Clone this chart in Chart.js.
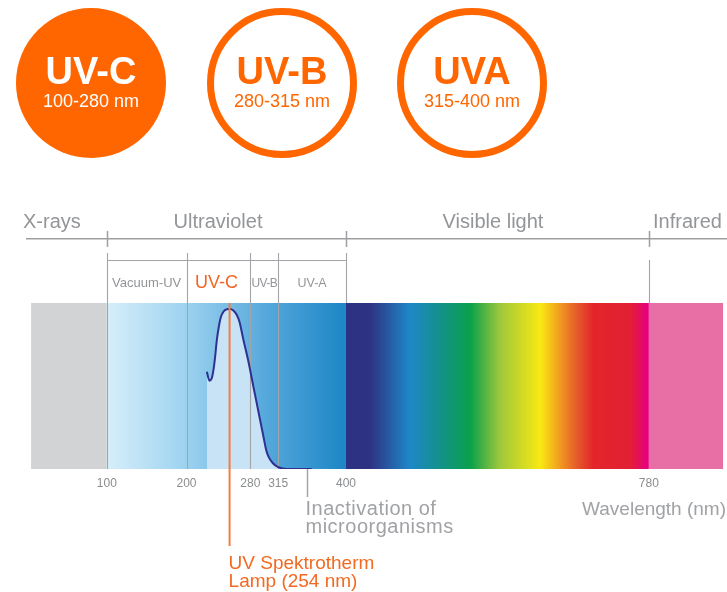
<!DOCTYPE html>
<html>
<head>
<meta charset="utf-8">
<script src="https://cdn.jsdelivr.net/npm/chart.js@4.4.1/dist/chart.umd.min.js"></script>
<style>
html,body{margin:0;padding:0;background:#fff;}
#c{display:block;}
</style>
</head>
<body>
<canvas id="c" width="727" height="592"></canvas>
<script>
// ---- data ----
const circleLabels = ['UV-C', 'UV-B', 'UVA'];
const circleRanges = ['100-280 nm', '280-315 nm', '315-400 nm'];
const regionLabels = ['X-rays', 'Ultraviolet', 'Visible light', 'Infrared'];
const regionBounds = [5, 100, 400, 780, 873];
const uvLabels = ['Vacuum-UV', 'UV-C', 'UV-B', 'UV-A'];
const uvBounds = [100, 200, 280, 315, 400];
const tickLabels = [100, 200, 280, 315, 400, 780];
const curveWavelengths = [225.5, 228.7, 231.7, 233.8, 235.9, 238.0, 240.9, 243.0, 246.3, 250.6, 254.7, 258.8, 263.1, 266.4, 271.4, 277.7, 283.9, 290.2, 296.5, 299.9, 302.8, 308.3, 315.3, 325.8, 357.2];
const curveIntensity   = [0.608, 0.552, 0.567, 0.619, 0.702, 0.806, 0.900, 0.948, 0.983, 0.998, 1.000, 0.990, 0.962, 0.920, 0.806, 0.670, 0.514, 0.358, 0.202, 0.119, 0.077, 0.036, 0.011, 0.000, 0.000];
const lampWavelength = 254;
const inactivationWavelength = 351;
const uvStopWl = [100, 200, 300, 400];
const uvStopColors = ['#d6eefb', '#9dd2ef', '#55a8db', '#1c86c6'];
const visibleStopWl = [400, 430, 480, 518, 556, 593, 644, 672, 690, 710, 757, 778, 780];
const visibleStopColors = ['#2e3282', '#2e3282', '#1e87c8', '#13918a', '#0aa04a', '#9ec73c', '#f9e912', '#ef8f22', '#e55a2a', '#e3262a', '#e21f35', '#e6007e', '#e6007e'];
const xrayColor = '#d1d3d4';
const infraredColor = '#e86ea6';

const FONT = "'Liberation Sans', Arial, Helvetica, sans-serif";
const GRAY_TEXT = '#939598';
const LINE_GRAY = '#a2a4a7';
const ORANGE = '#ff6600';

const curveData = curveWavelengths.map((w, i) => ({x: w, y: curveIntensity[i]}));

function bandTop(chart){ return chart.scales.y.getPixelForValue(chart.scales.y.max); }
function bandBottom(chart){ return chart.scales.y.getPixelForValue(0); }

const spectrumPlugin = {
  id: 'spectrum',
  beforeDraw(chart) {
    const ctx = chart.ctx, xs = chart.scales.x;
    const top = bandTop(chart), bot = bandBottom(chart);
    const px = v => xs.getPixelForValue(v);
    ctx.save();
    ctx.fillStyle = xrayColor;
    ctx.fillRect(px(regionBounds[0]), top, px(regionBounds[1]) - px(regionBounds[0]), bot - top);
    let x0 = px(regionBounds[1]), x1 = px(regionBounds[2]);
    let g = ctx.createLinearGradient(x0, 0, x1, 0);
    uvStopWl.forEach((w, i) => g.addColorStop((w - uvStopWl[0]) / (uvStopWl[uvStopWl.length-1] - uvStopWl[0]), uvStopColors[i]));
    ctx.fillStyle = g;
    ctx.fillRect(x0, top, x1 - x0, bot - top);
    x0 = px(regionBounds[2]); x1 = px(regionBounds[3]);
    g = ctx.createLinearGradient(x0, 0, x1, 0);
    const a = visibleStopWl[0], b = visibleStopWl[visibleStopWl.length-1];
    visibleStopWl.forEach((w, i) => g.addColorStop((w - a) / (b - a), visibleStopColors[i]));
    ctx.fillStyle = g;
    ctx.fillRect(x0, top, x1 - x0, bot - top);
    ctx.fillStyle = infraredColor;
    ctx.fillRect(px(regionBounds[3]), top, px(regionBounds[4]) - px(regionBounds[3]), bot - top);
    ctx.restore();
  },
  beforeDatasetsDraw(chart) {
    const ctx = chart.ctx, xs = chart.scales.x;
    const top = bandTop(chart), bot = bandBottom(chart);
    ctx.save();
    ctx.strokeStyle = LINE_GRAY;
    ctx.lineWidth = 1.1;
    uvBounds.forEach((w, i) => {
      const x = Math.round(xs.getPixelForValue(w)) + 0.5;
      const yEnd = (i === uvBounds.length - 1) ? top : bot;
      ctx.beginPath(); ctx.moveTo(x, top - 50); ctx.lineTo(x, yEnd); ctx.stroke();
    });
    const x780 = Math.round(xs.getPixelForValue(regionBounds[3])) + 0.5;
    ctx.beginPath(); ctx.moveTo(x780, top - 43); ctx.lineTo(x780, top); ctx.stroke();
    ctx.restore();
  },
  afterDraw(chart) {
    const ctx = chart.ctx, xs = chart.scales.x;
    const top = bandTop(chart), bot = bandBottom(chart);
    const px = v => xs.getPixelForValue(v);
    ctx.save();

    // ---- circles ----
    const cx = [91, 282, 472], cy = 83;
    circleLabels.forEach((lab, i) => {
      ctx.beginPath();
      if (i === 0) {
        ctx.arc(cx[i], cy, 75, 0, Math.PI * 2);
        ctx.fillStyle = ORANGE; ctx.fill();
      } else {
        ctx.arc(cx[i], cy, 71.5, 0, Math.PI * 2);
        ctx.strokeStyle = ORANGE; ctx.lineWidth = 7; ctx.stroke();
      }
      ctx.fillStyle = i === 0 ? '#ffffff' : ORANGE;
      ctx.textAlign = 'center'; ctx.textBaseline = 'alphabetic';
      ctx.font = 'bold 38px ' + FONT;
      ctx.fillText(lab, cx[i], 84);
      ctx.font = '18px ' + FONT;
      ctx.fillText(circleRanges[i], cx[i], 107);
    });

    // ---- top bracket ----
    ctx.strokeStyle = '#9d9fa2';
    ctx.lineWidth = 1.5;
    ctx.beginPath(); ctx.moveTo(26, 238.75); ctx.lineTo(727, 238.75); ctx.stroke();
    [regionBounds[1], regionBounds[2], regionBounds[3]].forEach(w => {
      const x = Math.round(px(w)) + 0.5;
      ctx.beginPath(); ctx.moveTo(x, 231); ctx.lineTo(x, 247); ctx.stroke();
    });
    ctx.lineWidth = 1.1;
    ctx.strokeStyle = LINE_GRAY;
    ctx.beginPath(); ctx.moveTo(Math.round(px(uvBounds[0])) + 0.5, 260.5); ctx.lineTo(Math.round(px(uvBounds[4])) + 0.5, 260.5); ctx.stroke();

    // ---- region labels ----
    ctx.fillStyle = GRAY_TEXT;
    ctx.font = '20px ' + FONT;
    ctx.textBaseline = 'alphabetic';
    ctx.textAlign = 'left'; ctx.fillText(regionLabels[0], 23, 228);
    ctx.textAlign = 'center'; ctx.fillText(regionLabels[1], 218, 228);
    ctx.fillText(regionLabels[2], 493, 228);
    ctx.textAlign = 'left'; ctx.fillText(regionLabels[3], 653, 228);

    // ---- UV sub labels ----
    ctx.textAlign = 'center';
    const subSizes = [13, 18, 12, 12.5];
    uvLabels.forEach((lab, i) => {
      const x = (px(uvBounds[i]) + px(uvBounds[i + 1])) / 2;
      ctx.font = subSizes[i] + 'px ' + FONT;
      if (i === 1) {
        ctx.fillStyle = '#f26522';
        ctx.fillText(lab, x - 2, 288);
      } else {
        ctx.fillStyle = GRAY_TEXT;
        ctx.letterSpacing = (i === 2) ? '-0.6px' : '0px';
        ctx.fillText(lab, x, 287);
        ctx.letterSpacing = '0px';
      }
    });

    // ---- tick labels ----
    ctx.fillStyle = '#8a8c8e';
    ctx.font = '12px ' + FONT;
    tickLabels.forEach(t => ctx.fillText(String(t), px(t), 487));

    // ---- lamp line ----
    const lx = px(lampWavelength);
    ctx.strokeStyle = '#f47c3c'; ctx.lineWidth = 2;
    ctx.beginPath(); ctx.moveTo(lx, top); ctx.lineTo(lx, 546); ctx.stroke();
    ctx.fillStyle = '#f26a21'; ctx.font = '19px ' + FONT; ctx.textAlign = 'left';
    ctx.fillText('UV Spektrotherm', lx - 1, 569);
    ctx.fillText('Lamp (254 nm)', lx - 1, 587);

    // ---- inactivation ----
    const ix = Math.round(px(inactivationWavelength)) + 0.5;
    ctx.strokeStyle = LINE_GRAY; ctx.lineWidth = 1.5;
    ctx.beginPath(); ctx.moveTo(ix, bot); ctx.lineTo(ix, 497); ctx.stroke();
    ctx.fillStyle = '#a0a2a5'; ctx.font = '20px ' + FONT; ctx.textAlign = 'left';
    ctx.letterSpacing = '0.5px';
    ctx.fillText('Inactivation of', ix - 2, 515);
    ctx.fillText('microorganisms', ix - 2, 533);
    ctx.letterSpacing = '0px';

    // ---- axis title ----
    ctx.font = '19px ' + FONT;
    ctx.textAlign = 'right';
    ctx.fillText('Wavelength (nm)', 726, 515);

    ctx.restore();
  }
};

new Chart(document.getElementById('c'), {
  type: 'line',
  data: {
    datasets: [{
      data: curveData,
      borderColor: '#2e3192',
      borderWidth: 2,
      backgroundColor: '#c8e3f5',
      fill: 'origin',
      pointRadius: 0,
      cubicInterpolationMode: 'monotone'
    }]
  },
  options: {
    responsive: false,
    animation: false,
    devicePixelRatio: 1,
    layout: { padding: { top: 303, bottom: 123, left: 0, right: 0 } },
    scales: {
      x: { type: 'linear', min: -34, max: 878, display: false },
      y: { min: 0, max: 1.0375, display: false }
    },
    plugins: {
      legend: { display: false },
      tooltip: { enabled: false },
      filler: { drawTime: 'beforeDatasetsDraw' }
    }
  },
  plugins: [spectrumPlugin]
});
</script>
</body>
</html>
